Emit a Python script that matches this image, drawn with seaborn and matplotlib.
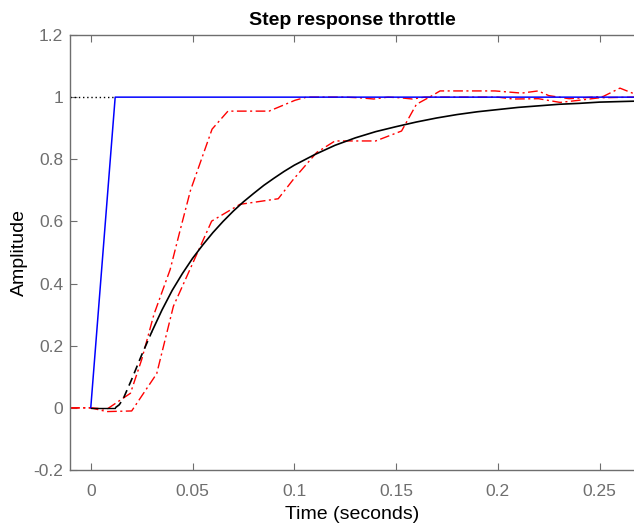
import matplotlib
matplotlib.use("Agg")
import matplotlib.pyplot as plt
import seaborn as sns

# input step (blue) and dotted reference level
step_t = [0.0, 0.012, 0.267]
step_y = [0.0, 1.0, 1.0]
ref_t = [-0.0102, 0.012]
ref_y = [1.0, 1.0]

# model response (black), dashed during the start
model_t = [0.0, 0.008, 0.012, 0.014, 0.016, 0.018, 0.02, 0.025, 0.03, 0.035, 0.04,
           0.045, 0.05, 0.055, 0.06, 0.065, 0.07, 0.075, 0.08, 0.085, 0.09, 0.095,
           0.1, 0.11, 0.12, 0.13, 0.14, 0.15, 0.16, 0.17, 0.18, 0.19, 0.2, 0.21,
           0.22, 0.23, 0.24, 0.25, 0.267]
model_y = [0.0, 0.0, 0.0, 0.01, 0.03, 0.06, 0.09, 0.17, 0.245, 0.315, 0.378,
           0.432, 0.481, 0.524, 0.564, 0.60, 0.633, 0.663, 0.69, 0.716, 0.739, 0.761,
           0.781, 0.815, 0.845, 0.869, 0.889, 0.905, 0.92, 0.933, 0.944, 0.953, 0.96, 0.967,
           0.972, 0.977, 0.98, 0.984, 0.987]
dash_end = 0.03

# measured responses (red dash-dot)
meas1_t = [-0.0102, 0.0, 0.008, 0.0195, 0.025, 0.031, 0.039, 0.044, 0.049,
           0.0596, 0.0674, 0.0876, 0.1004, 0.106, 0.125, 0.132, 0.139, 0.146, 0.152,
           0.158, 0.164, 0.2, 0.2075, 0.22, 0.2306, 0.24, 0.25, 0.267]
meas1_y = [0.0, 0.0, -0.004, 0.047, 0.155, 0.30, 0.445, 0.574, 0.70,
           0.897, 0.955, 0.955, 0.99, 1.0, 1.0, 0.998, 0.994, 1.0, 0.998,
           0.994, 1.0, 1.0, 0.994, 0.995, 0.983, 0.99, 0.998, 1.0]
meas2_t = [-0.0102, 0.0, 0.0078, 0.0201, 0.0324, 0.0406, 0.0594, 0.0733, 0.0921,
           0.0995, 0.111, 0.12, 0.14, 0.1527, 0.16, 0.1675, 0.1716, 0.1986, 0.2117,
           0.2198, 0.225, 0.235, 0.2517, 0.26, 0.2665]
meas2_y = [0.0, 0.0, -0.012, -0.01, 0.11, 0.327, 0.601, 0.655, 0.673,
           0.735, 0.822, 0.859, 0.859, 0.891, 0.977, 1.004, 1.02, 1.02, 1.013,
           1.02, 1.005, 0.995, 1.002, 1.029, 1.012]

x_ticks = [0, 0.05, 0.1, 0.15, 0.2, 0.25]
x_labels = ['0', '0.05', '0.1', '0.15', '0.2', '0.25']
y_ticks = [-0.2, 0, 0.2, 0.4, 0.6, 0.8, 1.0, 1.2]
y_labels = ['-0.2', '0', '0.2', '0.4', '0.6', '0.8', '1', '1.2']

sns.set_theme(style="white")
plt.rcParams['font.family'] = ['Liberation Sans', 'DejaVu Sans']

fig = plt.figure(figsize=(6.34, 5.27), dpi=100)
ax = fig.add_axes([70 / 634, 57 / 527, 564 / 634, 435 / 527])

dashdot = (0, (7, 2.5, 1.5, 2.5))
sns.lineplot(x=meas1_t, y=meas1_y, ax=ax, color='red', lw=1.0, linestyle=dashdot)
sns.lineplot(x=meas2_t, y=meas2_y, ax=ax, color='red', lw=1.0, linestyle=dashdot)

sns.lineplot(x=ref_t, y=ref_y, ax=ax, color='black', lw=1.0, linestyle=(0, (1, 2)))
sns.lineplot(x=step_t, y=step_y, ax=ax, color='blue', lw=1.1)

start = [(t, y) for t, y in zip(model_t, model_y) if 0.012 <= t <= dash_end]
sns.lineplot(x=[p[0] for p in start], y=[p[1] for p in start], ax=ax,
             color='black', lw=1.2, linestyle=(0, (5, 3)))
rest = [(t, y) for t, y in zip(model_t, model_y) if t >= dash_end]
sns.lineplot(x=[p[0] for p in rest], y=[p[1] for p in rest], ax=ax,
             color='black', lw=1.2)
flat = [(t, y) for t, y in zip(model_t, model_y) if t <= 0.012]
sns.lineplot(x=[p[0] for p in flat], y=[p[1] for p in flat], ax=ax,
             color='black', lw=1.0)

ax.set_xlim(-0.0102, 0.2669)
ax.set_ylim(-0.2, 1.2)
ax.set_xticks(x_ticks)
ax.set_xticklabels(x_labels)
ax.set_yticks(y_ticks)
ax.set_yticklabels(y_labels)

gray = '#6e6e6e'
for side in ['left', 'bottom', 'top']:
    ax.spines[side].set_color(gray)
    ax.spines[side].set_linewidth(1.0)
ax.spines['right'].set_visible(False)
ax.tick_params(axis='both', direction='in', length=5, width=0.8, color=gray,
               labelcolor=gray, labelsize=12.5)
ax.tick_params(axis='x', top=True, bottom=True, pad=10)
ax.tick_params(axis='y', left=True, right=False, pad=5)

ax.set_title('Step response throttle', fontsize=14, fontweight='bold', pad=7, color='black')
ax.set_xlabel('Time (seconds)', fontsize=14, color='black', labelpad=5)
ax.set_ylabel('Amplitude', fontsize=14, color='black', labelpad=4)

fig.savefig('out.png', dpi=100)
